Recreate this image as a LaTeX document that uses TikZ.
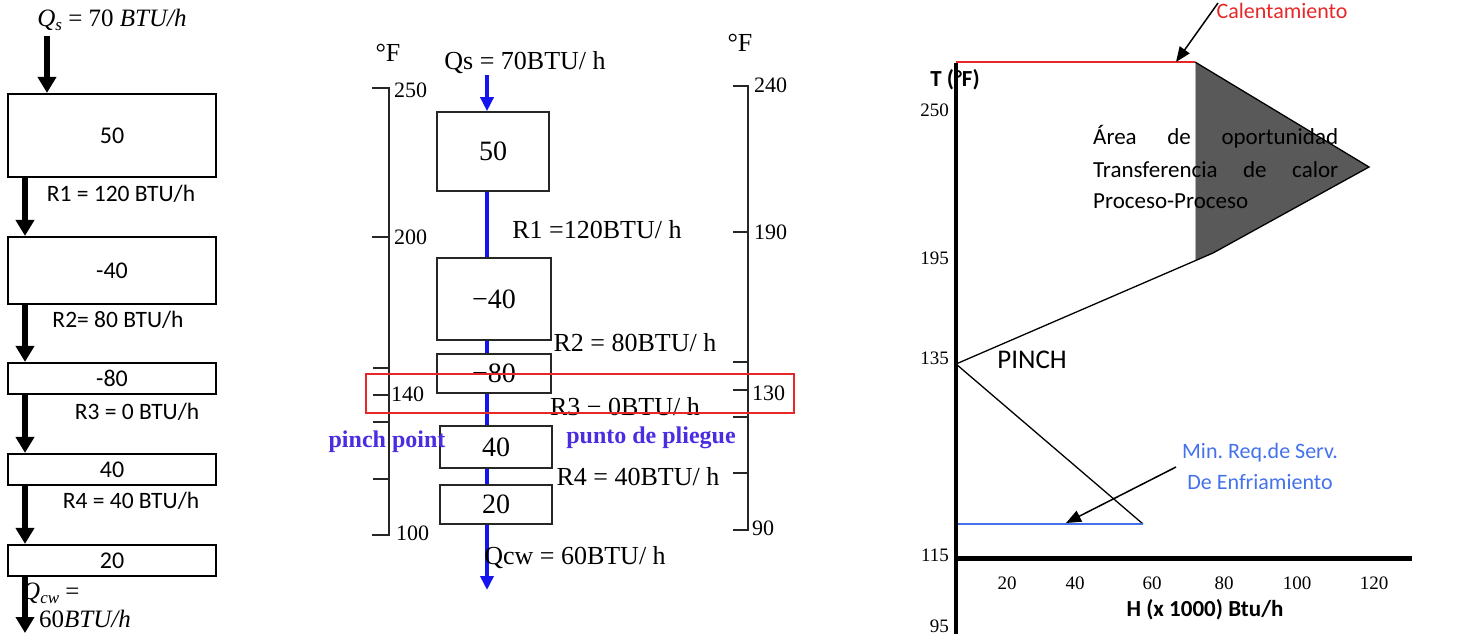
\documentclass[tikz,border=0pt]{standalone}
\usepackage{fontspec}
\setmainfont{Carlito}
\newfontfamily\tms{Liberation Serif}
\usetikzlibrary{arrows.meta}
\definecolor{cblue}{RGB}{20,20,240}
\definecolor{pblue}{RGB}{75,45,225}
\definecolor{mblue}{RGB}{68,114,235}
\definecolor{cred}{RGB}{230,40,40}
\definecolor{areagray}{RGB}{89,89,89}
\newcommand{\mysub}[1]{\raisebox{-4pt}{\fontsize{17}{18}\selectfont #1}}
\frenchspacing
\begin{document}
\begin{tikzpicture}[x=1pt,y=-1pt,
  lbox/.style={draw,line width=2.2pt,inner sep=0pt,font=\fontsize{24}{27}\selectfont},
  larr/.style={line width=5.5pt,-{Triangle[width=18pt,length=16pt]}},
  ltxt/.style={font=\fontsize{23.5}{26}\selectfont,inner sep=0pt},
  mtxt/.style={font=\tms\itshape\fontsize{25}{28}\selectfont,inner sep=0pt},
  cbox/.style={draw=black!85,line width=1.6pt,inner sep=0pt,font=\tms\fontsize{28}{30}\selectfont},
  ctxt/.style={font=\tms\fontsize{26}{28}\selectfont,inner sep=0pt},
  cnum/.style={font=\tms\fontsize{22}{24}\selectfont,inner sep=0pt},
  ptxt/.style={font=\tms\bfseries\fontsize{24}{28}\selectfont,text=pblue,inner sep=0pt},
  cline/.style={draw=cblue,line width=4pt},
  carr/.style={draw=cblue,line width=4pt,-{Triangle[width=13pt,length=14pt]}},
  brk/.style={draw=black!85,line width=1.4pt},
  rnum/.style={font=\tms\fontsize{19}{22}\selectfont,inner sep=0pt},
  rtxt/.style={font=\fontsize{23}{26}\selectfont,inner sep=0pt},
  btxt/.style={font=\bfseries\fontsize{23}{26}\selectfont,inner sep=0pt},
  axis/.style={line width=4.5pt},
  thin/.style={line width=1.3pt},
  parr/.style={line width=1.5pt,-{Triangle[width=12pt,length=15pt]}}]
\useasboundingbox (0,0) rectangle (1477,634);

% ---------------- left panel ----------------
\node[mtxt] (qs) at (112,20) {Q\mysub{s} {\upshape =} {\upshape 70} BTU/h};
\node[lbox,minimum width=208pt,minimum height=83pt] (L1) at (112,135.5) {50};
\node[lbox,minimum width=208pt,minimum height=67pt] (L2) at (112,270.5) {-40};
\node[lbox,minimum width=208pt,minimum height=31pt] (L3) at (112,378.5) {-80};
\node[lbox,minimum width=208pt,minimum height=31pt] (L4) at (112,469.5) {40};
\node[lbox,minimum width=208pt,minimum height=31pt] (L5) at (112,560.5) {20};
\coordinate (a0) at (47,36);
\coordinate (lx) at (25,0);
\coordinate (lend) at (25,633);
\draw[larr] (a0) -- (L1.north -| a0);
\draw[larr] (L1.south -| lx) -- (L2.north -| lx);
\draw[larr] (L2.south -| lx) -- (L3.north -| lx);
\draw[larr] (L3.south -| lx) -- (L4.north -| lx);
\draw[larr] (L4.south -| lx) -- (L5.north -| lx);
\draw[larr] (L5.south -| lx) -- (lend);
\node[ltxt] (r1) at (121,194) {R1 = 120 BTU/h};
\node[ltxt] (r2) at (118,320) {R2= 80 BTU/h};
\node[ltxt] (r3) at (137,412) {R3 = 0 BTU/h};
\node[ltxt] (r4) at (131,501) {R4 = 40 BTU/h};
\node[mtxt,anchor=west] (qcw1) at (22,593) {Q\mysub{cw} {\upshape =}};
\node[mtxt,anchor=west] (qcw2) at (39,619) {{\upshape 60}BTU/h};

% ---------------- center panel ----------------
\node[ctxt] (fl) at (388,53) {°F};
\node[ctxt] (fr) at (740,43) {°F};
\draw[brk] (372,88) -- (389,88) -- (389,535) -- (372,535);
\draw[brk] (372,237) -- (389,237);
\draw[brk] (373,368) -- (389,368);
\draw[brk] (373,395) -- (389,395);
\draw[brk] (373,422) -- (389,422);
\draw[brk] (373,479) -- (389,479);
\node[cnum,anchor=west] (t250) at (394,90) {250};
\node[cnum,anchor=west] (t200) at (394,237) {200};
\node[cnum,anchor=west] (t140) at (391,394) {140};
\node[cnum,anchor=west] (t100) at (396,533) {100};
\draw[brk] (733,86) -- (748,86) -- (748,530) -- (733,530);
\draw[brk] (733,232) -- (748,232);
\draw[brk] (733,362) -- (748,362);
\draw[brk] (733,390) -- (748,390);
\draw[brk] (733,417) -- (748,417);
\draw[brk] (733,473) -- (748,473);
\node[cnum,anchor=west] (t240) at (754,85) {240};
\node[cnum,anchor=west] (t190) at (754,232) {190};
\node[cnum,anchor=west] (t130) at (752,393) {130};
\node[cnum,anchor=west] (t90) at (752,528) {90};

\node[cbox,minimum width=112pt,minimum height=79pt] (C1) at (493,151.5) {50};
\node[cbox,minimum width=114pt,minimum height=82pt] (C2) at (494,299) {−40};
\node[cbox,minimum width=114pt,minimum height=39pt] (C3) at (494,373.5) {−80};
\node[cbox,minimum width=112pt,minimum height=42pt] (C4) at (496,447) {40};
\node[cbox,minimum width=112pt,minimum height=39pt] (C5) at (496,504.5) {20};
\coordinate (cx) at (487,0);
\coordinate (ctop) at (487,75);
\coordinate (cend) at (487,590);
\draw[carr] (ctop) -- (C1.north -| cx);
\draw[cline] (C1.south -| cx) -- (C2.north -| cx);
\draw[cline] (C2.south -| cx) -- (C3.north -| cx);
\draw[cline] (C3.south -| cx) -- (C4.north -| cx);
\draw[cline] (C4.south -| cx) -- (C5.north -| cx);
\draw[carr] (C5.south -| cx) -- (cend);

\node[ctxt] (cqs) at (525,63) {Qs = 70BTU/ h};
\node[ctxt] (cr1) at (597,230) {R1 =120BTU/ h};
\node[ctxt] (cr2) at (635,343) {R2 = 80BTU/ h};
\node[ctxt] (cr3) at (625,407) {R3 − 0BTU/ h};
\node[ctxt] (cr4) at (638,477) {R4 = 40BTU/ h};
\node[ctxt] (cqcw) at (575,558) {Qcw = 60BTU/ h};
\node[ptxt] (pp) at (387,442) {pinch point};
\node[ptxt] (pdp) at (651,438) {punto de pliegue};
\node[draw=cred,line width=1.2pt,minimum width=428pt,minimum height=39pt,inner sep=0pt] (pinchbox) at (580,393.5) {};

% ---------------- right panel ----------------
\fill[areagray] (1195,62) -- (1369,167) -- (1213,253) -- (1195,261) -- cycle;
\draw[black!30,line width=1pt] (1195,62) -- (1195,261);
\draw[thin] (1195,62) -- (1369,167) -- (1213,253) -- (956,364) -- (1143,524);
\draw[cred,line width=1.6pt] (956,62) -- (1195,62);
\draw[mblue,line width=1.6pt] (956,524) -- (1143,524);
\draw[axis] (956,63) -- (956,634);
\draw[axis,line width=5pt] (954,558) -- (1412,558);

\node[btxt] (ty) at (955,80) {T (°F)};
\node[rnum,anchor=east] (y250) at (949,110) {250};
\node[rnum,anchor=east] (y195) at (949,258) {195};
\node[rnum,anchor=east] (y135) at (949,358) {135};
\node[rnum,anchor=east] (y115) at (949,555) {115};
\node[rnum,anchor=east] (y95) at (949,626) {95};
\node[rnum] (x20) at (1007,583) {20};
\node[rnum] (x40) at (1075,583) {40};
\node[rnum] (x60) at (1152,583) {60};
\node[rnum] (x80) at (1224,583) {80};
\node[rnum] (x100) at (1297,583) {100};
\node[rnum] (x120) at (1374,583) {120};
\node[btxt] (hx) at (1205,610) {H (x 1000) Btu/h};

\node[rtxt,anchor=base west] (ar1) at (1093,144) {\makebox[245pt][s]{Área de oportunidad}};
\node[rtxt,anchor=base west] (ar2) at (1093,177) {\makebox[245pt][s]{Transferencia de calor}};
\node[rtxt,anchor=base west] (ar3) at (1093,208) {Proceso-Proceso};
\node[rtxt,font=\fontsize{27}{30}\selectfont] (pinch) at (1032,360) {PINCH};

\node[rtxt,font=\fontsize{22}{26}\selectfont,text=cred] (cal) at (1282,11) {Calentamiento};
\coordinate (calS) at (1218,3);
\coordinate (calT) at (1176,62);
\draw[parr] (calS) -- (calT);

\node[rtxt,font=\fontsize{22}{26}\selectfont,text=mblue] (mr1) at (1260,453) {Min. Req.de Serv.};
\node[rtxt,font=\fontsize{22}{26}\selectfont,text=mblue] (mr2) at (1260,482) {De Enfriamiento};
\coordinate (mrS) at (1176,467);
\coordinate (mrT) at (1066,523);
\draw[parr] (mrS) -- (mrT);
\end{tikzpicture}
\end{document}
